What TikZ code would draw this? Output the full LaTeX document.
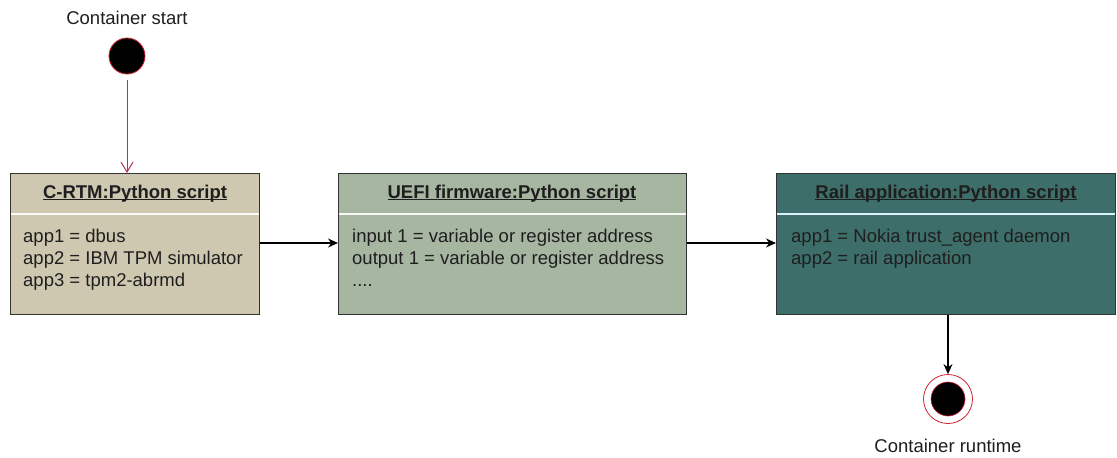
\documentclass[tikz,border=0pt]{standalone}
\usepackage{fontspec}
\setmainfont{Liberation Sans}
\usetikzlibrary{arrows.meta}

\definecolor{boxline}{HTML}{333333}
\definecolor{tanfill}{HTML}{CFC8B1}
\definecolor{sagefill}{HTML}{A6B6A1}
\definecolor{tealfill}{HTML}{3E6E6A}
\definecolor{txt}{HTML}{1E1E1E}
\definecolor{flowred}{HTML}{B8344E}
\definecolor{ringred}{HTML}{D02030}

% underline set close to the baseline, crossing the descenders
\newcommand\objname[1]{\setbox0\hbox{#1}\rlap{\usebox0}\rule[-2.4pt]{\wd0}{1.2pt}}

\tikzset{
  objbox/.style={draw=boxline, line width=1.2pt, anchor=north west, inner sep=0pt},
  objtitle/.style={font=\fontsize{18.5}{21}\selectfont\bfseries, text=txt, inner sep=0pt, anchor=base},
  objbody/.style={font=\fontsize{18.5}{22}\selectfont, text=txt, align=left, anchor=north west, inner sep=0pt},
  lbl/.style={font=\fontsize{18.5}{21}\selectfont, text=txt, inner sep=0pt, anchor=base},
  flow/.style={draw=black, line width=1.2pt, -{Stealth[length=10pt,width=9pt]}},
  startflow/.style={draw=flowred, line width=1pt, -{Straight Barb[length=10pt,width=12pt,line width=1pt]}},
  sep/.style={line width=1.6pt},
}

\begin{document}
\begin{tikzpicture}[x=1pt,y=-1pt]
\useasboundingbox (0,0) rectangle (1117,458);

% initial state
\node[lbl] (startlbl) at (127,24) {Container start};
\node[circle, fill=black, draw=ringred, line width=0.8pt, minimum size=36pt, inner sep=0pt] (start) at (127,56) {};
\coordinate (startfoot) at ([yshift=-6pt]start.south);

% object boxes
\node[objbox, fill=tanfill, minimum width=249pt, minimum height=141pt] (crtm) at (10,173) {};
\node[objbox, fill=sagefill, minimum width=348pt, minimum height=141pt] (uefi) at (338,173) {};
\node[objbox, fill=tealfill, minimum width=339pt, minimum height=141pt] (rail) at (776,173) {};

% compartment separators
\draw[sep, draw=white!90!tanfill] ([xshift=0.8pt,yshift=-41pt]crtm.north west) -- ([xshift=-0.8pt,yshift=-41pt]crtm.north east);
\draw[sep, draw=white!90!sagefill] ([xshift=0.8pt,yshift=-41pt]uefi.north west) -- ([xshift=-0.8pt,yshift=-41pt]uefi.north east);
\draw[sep, draw=cyan!15!white] ([xshift=0.8pt,yshift=-41pt]rail.north west) -- ([xshift=-0.8pt,yshift=-41pt]rail.north east);

% titles
\node[objtitle] (crtmtitle) at (135,198) {\objname{C-RTM:Python script}};
\node[objtitle] (uefititle) at (512,198) {\objname{UEFI firmware:Python script}};
\node[objtitle] (railtitle) at (946,198) {\objname{Rail application:Python script}};

% attributes
\node[objbody] (crtmbody) at (23,229) {app1 = dbus\\app2 = IBM TPM simulator\\app3 = tpm2-abrmd};
\node[objbody] (uefibody) at (352,229) {input 1 = variable or register address\\output 1 = variable or register address\\....};
\node[objbody] (railbody) at (791,229) {app1 = Nokia trust\_agent daemon\\app2 = rail application};

% final state
\node[circle, draw=ringred, fill=white, line width=0.8pt, minimum size=49pt, inner sep=0pt] (stop) at (948,399) {};
\node[circle, fill=black, draw=ringred, line width=0.6pt, minimum size=34pt, inner sep=0pt] (stopdot) at (stop.center) {};
\node[lbl] (stoplbl) at (948,452) {Container runtime};

% transitions
\draw[startflow] (startfoot) -- (crtm.north -| start);
\draw[flow] (crtm.east |- 0,243) coordinate (a1) -- (uefi.west |- a1);
\draw[flow] (uefi.east |- 0,243) coordinate (a2) -- (rail.west |- a2);
\draw[flow] (rail.south -| stop) -- (stop.north);
\end{tikzpicture}
\end{document}
